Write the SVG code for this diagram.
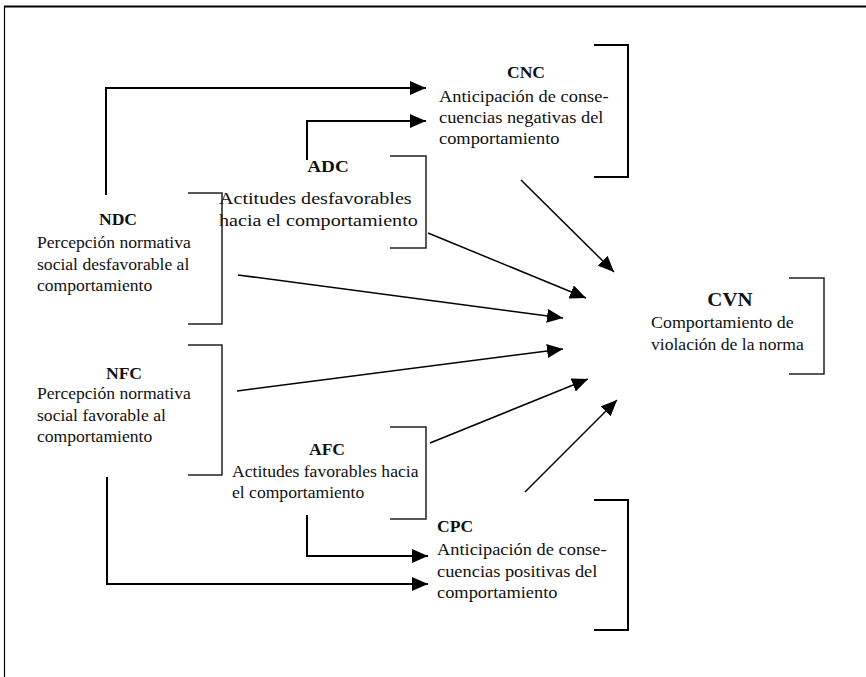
<svg xmlns="http://www.w3.org/2000/svg" width="866" height="677" viewBox="0 0 866 677">
<style>
text { font-family: "Liberation Serif", "Times New Roman", serif; font-size: 16px; fill: #111; }
.t { font-weight: bold; }
.big { font-size: 19px; }
.lg { font-size: 17.5px; }
.br { fill: none; stroke: #222; stroke-width: 1.5; }
.brk { fill: none; stroke: #000; stroke-width: 2; }
.c { fill: none; stroke: #000; stroke-width: 2; }
.d { fill: none; stroke: #000; stroke-width: 1.5; }
</style>
<defs>
<marker id="ah" markerUnits="userSpaceOnUse" markerWidth="16" markerHeight="14" refX="16" refY="7" orient="auto">
<path d="M0,0 L16,7 L0,14 Z" fill="#000"/>
</marker>
</defs>
<rect width="866" height="677" fill="#fff"/>
<g id="frame">
<line x1="4" y1="6.5" x2="866" y2="6.5" stroke="#000" stroke-width="2"/>
<line x1="4.5" y1="6" x2="4.5" y2="677" stroke="#000" stroke-width="1.2"/>
</g>
<g id="connectors">
<path class="c" d="M106,195 V88 H426" marker-end="url(#ah)"/>
<path class="c" d="M307,160 V121 H426" marker-end="url(#ah)"/>
<path class="c" d="M107,477 V584 H428" marker-end="url(#ah)"/>
<path class="c" d="M307,515 V556 H428" marker-end="url(#ah)"/>
<path class="d" d="M521,180 L614,272" marker-end="url(#ah)"/>
<path class="d" d="M428,233 L586,298" marker-end="url(#ah)"/>
<path class="d" d="M238,275 L563,318" marker-end="url(#ah)"/>
<path class="d" d="M237,391 L563,349" marker-end="url(#ah)"/>
<path class="d" d="M430,443 L588,379" marker-end="url(#ah)"/>
<path class="d" d="M525,492 L617,400" marker-end="url(#ah)"/>
</g>
<g id="CNC">
<path class="brk" d="M594,45 H628 V177 H594"/>
<text class="t" text-anchor="middle" transform="translate(526,78) scale(1.1,1)">CNC</text>
<text transform="translate(439,102) scale(1.15,1)">Anticipación de conse-</text>
<text transform="translate(439,123) scale(1.15,1)">cuencias negativas del</text>
<text transform="translate(439,144) scale(1.15,1)">comportamiento</text>
</g>
<g id="ADC">
<path class="br" d="M390,156 H426 V248 H390"/>
<text class="t lg" text-anchor="middle" transform="translate(328,172) scale(1.1,1)">ADC</text>
<text class="lg" transform="translate(219,204) scale(1.15,1)">Actitudes desfavorables</text>
<text class="lg" transform="translate(219,226) scale(1.15,1)">hacia el comportamiento</text>
</g>
<g id="NDC">
<path class="br" d="M188,193 H222 V324 H188"/>
<text class="t" text-anchor="middle" transform="translate(118,225) scale(1.1,1)">NDC</text>
<text transform="translate(37,248) scale(1.1,1)">Percepción normativa</text>
<text transform="translate(37,270) scale(1.1,1)">social desfavorable al</text>
<text transform="translate(37,291) scale(1.1,1)">comportamiento</text>
</g>
<g id="NFC">
<path class="br" d="M188,345 H222 V475 H188"/>
<text class="t" text-anchor="middle" transform="translate(124,379) scale(1.1,1)">NFC</text>
<text transform="translate(37,399) scale(1.1,1)">Percepción normativa</text>
<text transform="translate(37,421) scale(1.1,1)">social favorable al</text>
<text transform="translate(37,442) scale(1.1,1)">comportamiento</text>
</g>
<g id="AFC">
<path class="br" d="M390,427 H426 V519 H390"/>
<text class="t" text-anchor="middle" transform="translate(327,455) scale(1.1,1)">AFC</text>
<text transform="translate(232,477) scale(1.1,1)">Actitudes favorables hacia</text>
<text transform="translate(232,498) scale(1.1,1)">el comportamiento</text>
</g>
<g id="CPC">
<path class="brk" d="M594,500 H628 V630 H594"/>
<text class="t" transform="translate(437,532) scale(1.1,1)">CPC</text>
<text transform="translate(437,555) scale(1.15,1)">Anticipación de conse-</text>
<text transform="translate(437,577) scale(1.15,1)">cuencias positivas del</text>
<text transform="translate(437,598) scale(1.15,1)">comportamiento</text>
</g>
<g id="CVN">
<path class="br" d="M789,278 H824 V374 H789"/>
<text class="t big" text-anchor="middle" transform="translate(730,306) scale(1.1,1)">CVN</text>
<text transform="translate(651,328) scale(1.12,1)">Comportamiento de</text>
<text transform="translate(651,350) scale(1.1,1)">violación de la norma</text>
</g>
</svg>
